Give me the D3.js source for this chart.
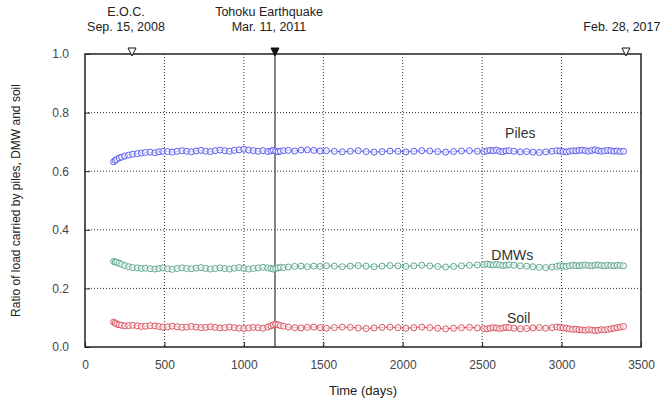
<!DOCTYPE html>
<html>
<head>
<meta charset="utf-8">
<script src="https://cdn.jsdelivr.net/npm/d3@7"></script>
<style>
  body { margin: 0; background: #fff; }
  svg { font-family: "Liberation Sans", Arial, sans-serif; }
</style>
</head>
<body>
<div id="chart"></div>
<script>
// measurement times (days)
var days = [
  180, 190, 200, 215, 230, 250, 275, 300, 330, 355,
  380, 410, 440, 465, 490, 520, 550, 580, 610, 640,
  670, 700, 730, 760, 790, 820, 850, 880, 910, 940,
  970, 1000, 1030, 1060, 1090, 1120, 1150, 1170, 1185, 1200,
  1215, 1230, 1250, 1280, 1320, 1360, 1400, 1440, 1480, 1520,
  1570, 1620, 1670, 1720, 1770, 1820, 1870, 1920, 1970, 2020,
  2070, 2120, 2170, 2220, 2270, 2320, 2370, 2420, 2470, 2510,
  2530, 2550, 2570, 2590, 2610, 2630, 2650, 2670, 2700, 2740,
  2780, 2820, 2860, 2900, 2940, 2970, 2990, 3010, 3030, 3050,
  3070, 3090, 3110, 3130, 3150, 3170, 3190, 3210, 3230, 3250,
  3270, 3290, 3310, 3330, 3350, 3370, 3390
];

var piles = [
  0.632, 0.637, 0.640, 0.645, 0.648, 0.652, 0.655, 0.658, 0.660, 0.662,
  0.664, 0.665, 0.663, 0.666, 0.668, 0.667, 0.665, 0.668, 0.670, 0.668,
  0.666, 0.669, 0.671, 0.668, 0.667, 0.670, 0.672, 0.670, 0.668, 0.671,
  0.673, 0.675, 0.672, 0.670, 0.668, 0.670, 0.667, 0.669, 0.671, 0.668,
  0.666, 0.668, 0.670, 0.671, 0.669, 0.672, 0.673, 0.671, 0.669, 0.670,
  0.668, 0.666, 0.668, 0.670, 0.667, 0.665, 0.667, 0.669, 0.668, 0.666,
  0.668, 0.670, 0.669, 0.667, 0.665, 0.667, 0.669, 0.670, 0.668, 0.667,
  0.669, 0.671, 0.670, 0.672, 0.668, 0.667, 0.669, 0.670, 0.668, 0.666,
  0.667, 0.665, 0.664, 0.666, 0.668, 0.670, 0.669, 0.667, 0.666, 0.668,
  0.670, 0.669, 0.671, 0.672, 0.670, 0.668, 0.671, 0.673, 0.670, 0.668,
  0.669, 0.671, 0.670, 0.668, 0.669, 0.667, 0.668
];

var dmws = [
  0.292, 0.290, 0.289, 0.286, 0.282, 0.278, 0.274, 0.271, 0.270, 0.268,
  0.269, 0.267, 0.266, 0.268, 0.270, 0.267, 0.265, 0.268, 0.270, 0.268,
  0.267, 0.269, 0.271, 0.268, 0.266, 0.268, 0.270, 0.268, 0.266, 0.269,
  0.271, 0.268, 0.266, 0.268, 0.270, 0.272, 0.270, 0.268, 0.266, 0.268,
  0.270, 0.272, 0.271, 0.273, 0.275, 0.276, 0.274, 0.276, 0.275, 0.277,
  0.276, 0.274, 0.276, 0.278, 0.276, 0.274, 0.276, 0.278, 0.277, 0.275,
  0.277, 0.279, 0.277, 0.275, 0.273, 0.275, 0.277, 0.279, 0.280, 0.281,
  0.283, 0.281, 0.280, 0.282, 0.280, 0.278, 0.279, 0.281, 0.279, 0.277,
  0.276, 0.274, 0.272, 0.271, 0.273, 0.275, 0.277, 0.276, 0.275, 0.277,
  0.279, 0.278, 0.277, 0.279, 0.280, 0.278, 0.277, 0.279, 0.280, 0.278,
  0.277, 0.279, 0.278, 0.277, 0.279, 0.278, 0.277
];

var soil = [
  0.085, 0.082, 0.078, 0.076, 0.074, 0.072, 0.073, 0.074, 0.072, 0.070,
  0.071, 0.073, 0.072, 0.070, 0.068, 0.069, 0.071, 0.069, 0.067, 0.068,
  0.070, 0.068, 0.066, 0.067, 0.069, 0.067, 0.065, 0.066, 0.068, 0.066,
  0.064, 0.063, 0.065, 0.067, 0.066, 0.064, 0.068, 0.072, 0.076, 0.078,
  0.076, 0.073, 0.071, 0.068, 0.066, 0.065, 0.067, 0.068, 0.066, 0.064,
  0.066, 0.068, 0.067, 0.065, 0.063, 0.065, 0.067, 0.068, 0.066, 0.064,
  0.066, 0.068, 0.066, 0.064, 0.062, 0.064, 0.066, 0.067, 0.065, 0.063,
  0.062, 0.064, 0.066, 0.065, 0.063, 0.065, 0.067, 0.066, 0.064, 0.062,
  0.063, 0.065, 0.066, 0.064, 0.066, 0.068, 0.067, 0.065, 0.064, 0.062,
  0.060, 0.061, 0.059, 0.058, 0.057, 0.059, 0.058, 0.056, 0.057, 0.059,
  0.058, 0.060, 0.062, 0.064, 0.066, 0.068, 0.070
];

var xTicks = [0, 500, 1000, 1500, 2000, 2500, 3000, 3500];
var yTicks = [0.0, 0.2, 0.4, 0.6, 0.8, 1.0];

// events marked on the top axis
var eventDays = [296, 1196, 3405];
var eventLines = [["E.O.C.", "Sep. 15, 2008"], ["Tohoku Earthquake", "Mar. 11, 2011"], ["Feb. 28, 2017"]];
var eventFilled = [false, true, false];

var seriesNames = ["Piles", "DMWs", "Soil"];
var seriesValues = [piles, dmws, soil];
var seriesColors = ["#5b5bf0", "#5fa88c", "#d9535f"];
var labelPos = [[2740, 0.715], [2690, 0.298], [2730, 0.082]];

/*
 * Bounds of component.
 */
var width = 670,
    height = 403,
    margin = {top: 54, right: 29, bottom: 56, left: 85},
    w = width - margin.left - margin.right,
    h = height - margin.top - margin.bottom;

var svg = d3.select("#chart").append("svg")
    .attr("width", width)
    .attr("height", height);

var g = svg.append("g")
    .attr("transform", "translate(" + margin.left + "," + margin.top + ")");

var x = d3.scaleLinear().domain([0, 3500]).range([0, w]);
var y = d3.scaleLinear().domain([0, 1]).range([h, 0]);

/*
 * Dotted grid.
 */
g.selectAll(".vgrid")
    .data(xTicks.slice(1, -1))
    .enter().append("line")
    .attr("x1", function(d) { return x(d); })
    .attr("x2", function(d) { return x(d); })
    .attr("y1", 0).attr("y2", h)
    .attr("stroke", "#333").attr("stroke-width", 1)
    .attr("stroke-dasharray", "1,2");

g.selectAll(".hgrid")
    .data(yTicks.slice(1, -1))
    .enter().append("line")
    .attr("x1", 0).attr("x2", w)
    .attr("y1", function(d) { return y(d); })
    .attr("y2", function(d) { return y(d); })
    .attr("stroke", "#333").attr("stroke-width", 1)
    .attr("stroke-dasharray", "1,2");

/*
 * Earthquake line.
 */
g.append("line")
    .attr("x1", x(eventDays[1])).attr("x2", x(eventDays[1]))
    .attr("y1", 0).attr("y2", h)
    .attr("stroke", "#333").attr("stroke-width", 1.2);

/*
 * Axes.
 */
var xAxis = g.append("g")
    .attr("transform", "translate(0," + h + ")")
    .call(d3.axisBottom(x).tickValues(xTicks).tickFormat(d3.format("d")).tickSizeInner(-5).tickSizeOuter(0).tickPadding(13));

var yAxis = g.append("g")
    .call(d3.axisLeft(y).tickValues(yTicks).tickFormat(d3.format(".1f")).tickSizeInner(-5).tickSizeOuter(0).tickPadding(16));

[xAxis, yAxis].forEach(function(a) {
    a.select(".domain").remove();
    a.selectAll("line").attr("stroke", "#222");
    a.selectAll("text").attr("font-size", 12).attr("fill", "#444")
        .attr("font-family", "'Liberation Sans', Arial, sans-serif");
});

g.append("rect")
    .attr("width", w).attr("height", h)
    .attr("fill", "none").attr("stroke", "#222").attr("stroke-width", 1.5);

/*
 * Series lines and open circles.
 */
seriesValues.forEach(function(vals, i) {
    var pts = days.map(function(d, k) { return [d, vals[k]]; });
    var line = d3.line()
        .x(function(d) { return x(d[0]); })
        .y(function(d) { return y(d[1]); });
    g.append("path")
        .datum(pts)
        .attr("d", line)
        .attr("fill", "none")
        .attr("stroke", seriesColors[i])
        .attr("stroke-width", 1);
    g.selectAll(".pt" + i)
        .data(pts)
        .enter().append("circle")
        .attr("cx", function(d) { return x(d[0]); })
        .attr("cy", function(d) { return y(d[1]); })
        .attr("r", 3)
        .attr("fill", "#fff")
        .attr("fill-opacity", 0.6)
        .attr("stroke", seriesColors[i])
        .attr("stroke-width", 1);
    g.append("text")
        .attr("x", x(labelPos[i][0]))
        .attr("y", y(labelPos[i][1]))
        .attr("text-anchor", "middle")
        .attr("font-size", 14)
        .attr("fill", "#333")
        .text(seriesNames[i]);
});

/*
 * Event markers and labels on top.
 */
eventDays.forEach(function(d, i) {
    var cx = x(d);
    g.append("path")
        .attr("d", "M" + (cx - 4) + ",-6 L" + (cx + 4) + ",-6 L" + cx + ",2 Z")
        .attr("fill", eventFilled[i] ? "#111" : "#fff")
        .attr("stroke", "#111").attr("stroke-width", 1);
    var lines = eventLines[i];
    lines.forEach(function(t, k) {
        g.append("text")
            .attr("x", i === 2 ? cx - 4 : cx - 6)
            .attr("y", -23 - (lines.length - 1 - k) * 15)
            .attr("text-anchor", "middle")
            .attr("font-size", 12.5)
            .attr("fill", "#222")
            .text(t);
    });
});

/*
 * Axis titles.
 */
svg.append("text")
    .attr("x", margin.left + w / 2)
    .attr("y", 395)
    .attr("text-anchor", "middle")
    .attr("font-size", 13)
    .attr("fill", "#222")
    .text("Time (days)");

svg.append("text")
    .attr("transform", "translate(20," + (margin.top + h / 2) + ") rotate(-90)")
    .attr("text-anchor", "middle")
    .attr("font-size", 12)
    .attr("fill", "#222")
    .text("Ratio of load carried by piles, DMW and soil");
</script>
</body>
</html>
